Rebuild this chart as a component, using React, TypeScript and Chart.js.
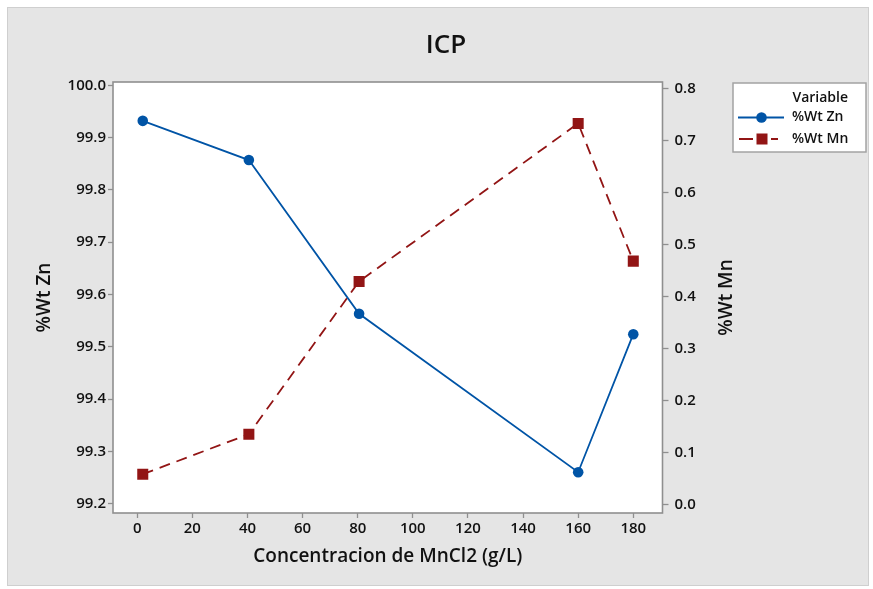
import React, { useEffect, useRef } from 'react';
import { Chart, registerables } from 'chart.js';

Chart.register(...registerables);

const chartTitle = 'ICP';
const xTitle = 'Concentracion de MnCl2 (g/L)';
const leftTitle = '%Wt Zn';
const rightTitle = '%Wt Mn';
const legendTitle = 'Variable';
const seriesNames = ['%Wt Zn', '%Wt Mn'];

const concentration = [2, 40.5, 80.5, 160, 180];
const wtZn = [99.932, 99.857, 99.563, 99.26, 99.524];
const wtMn = [0.058, 0.135, 0.429, 0.733, 0.468];

const xTicks = [0, 20, 40, 60, 80, 100, 120, 140, 160, 180];
const znTicks = [99.2, 99.3, 99.4, 99.5, 99.6, 99.7, 99.8, 99.9, 100.0];
const mnTicks = [0.0, 0.1, 0.2, 0.3, 0.4, 0.5, 0.6, 0.7, 0.8];

const BLUE = '#0054a6';
const RED = '#921515';
const FONT = '"Open Sans", "Noto Sans", sans-serif';
const TEXT = '#111111';
const AXIS_GRAY = '#8f8f8f';

export default function App() {
  const ref = useRef<HTMLCanvasElement | null>(null);

  useEffect(() => {
    document.body.style.margin = '0';
    const canvas = ref.current;
    if (!canvas) return;

    const backgroundPlugin = {
      id: 'bg',
      beforeDraw(chart: any) {
        const { ctx, chartArea: a, width, height } = chart;
        ctx.save();
        ctx.fillStyle = '#ffffff';
        ctx.fillRect(0, 0, width, height);
        ctx.fillStyle = '#e5e5e5';
        ctx.fillRect(7.5, 7.5, 861, 578);
        ctx.strokeStyle = '#cfcfcf';
        ctx.lineWidth = 1;
        ctx.strokeRect(7.5, 7.5, 861, 578);
        ctx.fillStyle = '#ffffff';
        ctx.fillRect(a.left, a.top, a.right - a.left, a.bottom - a.top);
        ctx.restore();
      },
    };

    const decorPlugin = {
      id: 'decor',
      afterDraw(chart: any) {
        const { ctx, chartArea: a } = chart;
        ctx.save();
        // plot frame
        ctx.strokeStyle = AXIS_GRAY;
        ctx.lineWidth = 1.6;
        ctx.strokeRect(a.left, a.top, a.right - a.left, a.bottom - a.top);

        // title
        ctx.fillStyle = '#111';
        ctx.textAlign = 'center';
        ctx.textBaseline = 'middle';
        ctx.font = `600 26px ${FONT}`;
        ctx.fillText(chartTitle, 446, 46);

        // axis titles
        const cy = (a.top + a.bottom) / 2;
        ctx.font = `600 19px ${FONT}`;
        ctx.fillText(xTitle, (a.left + a.right) / 2, 557);
        ctx.save();
        ctx.translate(45, cy);
        ctx.rotate(-Math.PI / 2);
        ctx.fillText(leftTitle, 0, 0);
        ctx.restore();
        ctx.save();
        ctx.translate(727, cy);
        ctx.rotate(-Math.PI / 2);
        ctx.fillText(rightTitle, 0, 0);
        ctx.restore();

        // legend
        const L = 733, T = 83, R = 866, B = 152;
        ctx.fillStyle = '#ffffff';
        ctx.fillRect(L, T, R - L, B - T);
        ctx.strokeStyle = '#a3a3a3';
        ctx.lineWidth = 1.5;
        ctx.strokeRect(L, T, R - L, B - T);
        ctx.font = `600 14px ${FONT}`;
        ctx.fillStyle = TEXT;
        ctx.textAlign = 'right';
        ctx.fillText(legendTitle, 848, 98);
        ctx.textAlign = 'left';
        ctx.fillText(seriesNames[0], 792, 117.5);
        ctx.fillText(seriesNames[1], 792, 139);
        // Zn sample
        ctx.strokeStyle = BLUE;
        ctx.lineWidth = 2;
        ctx.beginPath();
        ctx.moveTo(738, 117.5);
        ctx.lineTo(784, 117.5);
        ctx.stroke();
        ctx.fillStyle = BLUE;
        ctx.beginPath();
        ctx.arc(761.5, 117.5, 5.3, 0, Math.PI * 2);
        ctx.fill();
        // Mn sample
        ctx.strokeStyle = RED;
        ctx.beginPath();
        ctx.moveTo(739, 139);
        ctx.lineTo(753, 139);
        ctx.moveTo(771, 139);
        ctx.lineTo(778, 139);
        ctx.stroke();
        ctx.fillStyle = RED;
        ctx.fillRect(756.5, 133.5, 11, 11);
        ctx.restore();
      },
    };

    const tickFont = { family: FONT, size: 15, weight: 600 };

    const chart = new Chart(canvas, {
      type: 'line',
      data: {
        datasets: [
          {
            label: seriesNames[0],
            data: concentration.map((x, i) => ({ x, y: wtZn[i] })),
            yAxisID: 'y',
            borderColor: BLUE,
            backgroundColor: BLUE,
            borderWidth: 1.8,
            pointStyle: 'circle',
            pointRadius: 5.3,
            pointBackgroundColor: BLUE,
            pointBorderColor: BLUE,
            pointBorderWidth: 0,
            tension: 0,
          },
          {
            label: seriesNames[1],
            data: concentration.map((x, i) => ({ x, y: wtMn[i] })),
            yAxisID: 'y1',
            borderColor: RED,
            backgroundColor: RED,
            borderWidth: 1.8,
            borderDash: [11, 7],
            pointStyle: 'rect',
            pointRadius: 7.8,
            pointBackgroundColor: RED,
            pointBorderColor: RED,
            pointBorderWidth: 0,
            tension: 0,
          },
        ],
      },
      options: {
        responsive: false,
        animation: false,
        devicePixelRatio: 1,
        layout: { padding: { left: 0, top: 82, right: 130.5, bottom: 0 } },
        plugins: {
          legend: { display: false },
          title: { display: false },
          tooltip: { enabled: false },
        },
        scales: {
          x: {
            type: 'linear',
            position: 'bottom',
            min: -8.8,
            max: 190.6,
            afterFit: (s: any) => { s.height = 76; },
            afterBuildTicks: (s: any) => { s.ticks = xTicks.map((v) => ({ value: v })); },
            ticks: { font: tickFont, color: TEXT, padding: 2, maxRotation: 0, callback: (v: any) => String(v) },
            grid: { drawOnChartArea: false, drawTicks: true, tickLength: 5, color: AXIS_GRAY, tickColor: AXIS_GRAY, tickWidth: 1.3 },
            border: { display: false },
          },
          y: {
            type: 'linear',
            position: 'left',
            min: 99.182,
            max: 100.0063,
            afterFit: (s: any) => { s.width = 113; },
            afterBuildTicks: (s: any) => { s.ticks = znTicks.map((v) => ({ value: v })); },
            ticks: { font: tickFont, color: TEXT, padding: 2, callback: (v: any) => Number(v).toFixed(1) },
            grid: { drawOnChartArea: false, drawTicks: true, tickLength: 5, color: AXIS_GRAY, tickColor: AXIS_GRAY, tickWidth: 1.3 },
            border: { display: false },
          },
          y1: {
            type: 'linear',
            position: 'right',
            min: -0.0167,
            max: 0.8127,
            afterFit: (s: any) => { s.width = 80; },
            afterBuildTicks: (s: any) => { s.ticks = mnTicks.map((v) => ({ value: v })); },
            ticks: { font: tickFont, color: TEXT, padding: 6, callback: (v: any) => Number(v).toFixed(1) },
            grid: { drawOnChartArea: false, drawTicks: true, tickLength: 6, color: AXIS_GRAY, tickColor: AXIS_GRAY, tickWidth: 1.3 },
            border: { display: false },
          },
        },
      },
      plugins: [backgroundPlugin, decorPlugin],
    } as any);

    return () => chart.destroy();
  }, []);

  return (
    <div style={{ width: 873, height: 589, position: 'relative' }}>
      <canvas ref={ref} width={873} height={589} style={{ width: 873, height: 589, display: 'block' }} />
    </div>
  );
}
